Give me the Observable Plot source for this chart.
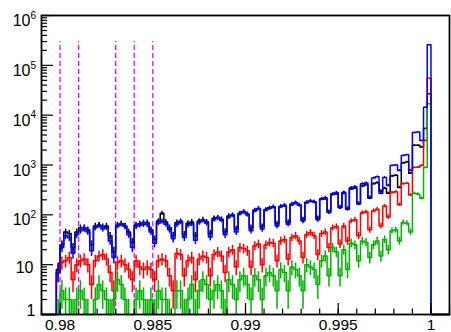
<!DOCTYPE html>
<html><head><meta charset="utf-8">
<script src="https://cdn.jsdelivr.net/npm/d3@7"></script>
<script src="https://cdn.jsdelivr.net/npm/@observablehq/plot@0.6"></script>
<style>body{margin:0;background:#fff}svg{display:block}</style>
</head><body><div id="chart"></div>
<script>
// histogram binning
const binStart = 0.9798;
const binWidth = 0.0002;

// bin contents (101 bins from 0.9798 to 1.0)
const blue = [7,22,38,35,17,40,48,56,45,19,55,62,52,56,30,14,60,66,58,40,22,58,62,70,64,45,27,68,74,65,50,33,64,72,35,62,66,31,70,78,68,36,80,88,78,40,90,99,45,105,116,100,48,120,134,52,125,135,146,60,145,156,65,160,176,155,75,175,190,180,80,210,220,112,265,280,140,285,134,350,368,170,420,436,224,550,578,270,560,390,980,995,780,1550,1600,780,4500,4600,3100,14500,260000];
const black = [8,25,45,42,22,45,55,52,50,25,60,62,58,60,38,18,62,66,60,45,28,62,66,64,70,50,32,75,107,72,55,38,70,74,40,68,72,38,75,80,72,42,85,88,82,46,95,98,52,108,115,104,55,125,132,58,128,138,142,66,148,152,70,165,172,158,80,178,188,182,85,205,210,115,255,262,140,270,130,330,340,165,380,400,215,420,440,300,340,270,600,620,355,1100,1150,680,2500,2500,2300,5400,27000];
const red = [7,11,12,14,5,10,12,13,10,4,12,15,16,13,7,3,11,12,10,8,5,12,9,8,9,8,5,12,13,12,6,3,17,16,6,12,14,5,13,15,14,6,16,18,15,7,18,20,9,22,21,19,9,24,26,10,25,28,27,12,30,32,13,35,38,30,14,40,44,38,16,42,45,22,55,58,26,60,30,75,80,38,110,115,50,120,130,60,150,90,280,290,160,420,430,250,890,900,980,3100,55000];
const green = [1,3,2,2,1,2,3,2,1,0,2,4,3,2,1,2,5,4,2,1,0,2,3,2,1,2,1,3,2,2,1,0,3,3,1,2,4,1,3,5,4,2,3,4,3,1,5,4,2,5,6,4,2,6,5,2,6,7,6,3,8,7,3,9,8,6,3,10,9,8,4,12,15,6,22,18,6,20,8,27,25,12,30,28,14,25,30,15,32,20,48,50,30,70,68,45,270,260,214,890,17000];

// axes
const xDomain = [0.979, 1.001];
const yDomain = [1, 1e6];
const xMajor = [0.98, 0.985, 0.99, 0.995, 1.0];
const xMajorLabels = ["0.98", "0.985", "0.99", "0.995", "1"];
const xMinor = d3.range(0, 23).map(i => +(0.979 + i * 0.001).toFixed(3));
const yMajor = [1, 10, 100, 1e3, 1e4, 1e5, 1e6];
const yBase = ["1", "10", "10", "10", "10", "10", "10"];
const yExp = ["", "", "2", "3", "4", "5", "6"];
const yMinor = d3.range(0, 6).flatMap(e => d3.range(2, 10).map(m => m * 10 ** e));

// cut lines
const cuts = [0.980, 0.981, 0.983, 0.984, 0.985];
const cutTop = 3e5;

const series = [
  {name: "black", color: "#000000", values: black},
  {name: "red", color: "#ff0000", values: red},
  {name: "green", color: "#00b400", values: green},
  {name: "blue", color: "#0000ff", values: blue}
];

function stepPoints(values) {
  const pts = [{x: xDomain[0], y: 1}];
  values.forEach((v, i) => pts.push({x: binStart + i * binWidth, y: Math.max(v, 1)}));
  pts.push({x: binStart + values.length * binWidth, y: 1});
  pts.push({x: xDomain[1], y: 1});
  return pts;
}
function errPoints(values) {
  return values.map((v, i) => ({x: binStart + (i + 0.5) * binWidth, v}))
    .filter(d => d.v > 0)
    .map(d => ({x: d.x, y1: Math.max(1, d.v - Math.sqrt(d.v)), y2: d.v + Math.sqrt(d.v)}));
}

const W = 451, H = 332, mL = 41, mR = 2, mT = 15, mB = 18;
const fw = W - mL - mR, fh = H - mT - mB;
const font = "Liberation Sans, Arial, Helvetica, sans-serif";

const marks = [];
marks.push(Plot.ruleX(cuts, {x: d => d, y1: 1, y2: cutTop, stroke: "#ff00ff", strokeWidth: 1.3, strokeDasharray: "5,3"}));
for (const s of series) {
  marks.push(Plot.ruleX(errPoints(s.values), {x: "x", y1: "y1", y2: "y2", stroke: s.color, strokeWidth: 1.5}));
  marks.push(Plot.line(stepPoints(s.values), {x: "x", y: "y", curve: "step-after", stroke: s.color, strokeWidth: 1.5}));
}
marks.push(Plot.tickY(yMajor, {y: d => d, stroke: "#000", strokeWidth: 1.2, insetRight: fw - 12}));
marks.push(Plot.tickY(yMinor, {y: d => d, stroke: "#000", strokeWidth: 1.2, insetRight: fw - 6}));
marks.push(Plot.tickX(xMajor, {x: d => d, stroke: "#000", strokeWidth: 1.2, insetTop: fh - 11}));
marks.push(Plot.tickX(xMinor, {x: d => d, stroke: "#000", strokeWidth: 1.2, insetTop: fh - 5.5}));
marks.push(Plot.frame({stroke: "#000", strokeWidth: 1.8}));
marks.push(Plot.text(xMajor, {x: d => d, text: (d, i) => xMajorLabels[i], frameAnchor: "bottom", lineAnchor: "bottom", dy: 15.5, fontSize: 15.5, fill: "#000"}));
const yl = yMajor.map((v, i) => ({v, base: yBase[i], exp: yExp[i]}));
marks.push(Plot.text(yl.filter(d => d.exp), {y: "v", text: "base", frameAnchor: "left", textAnchor: "end", dx: -11, dy: 5.5, fontSize: 16, fill: "#000"}));
marks.push(Plot.text(yl.filter(d => d.exp), {y: "v", text: "exp", frameAnchor: "left", textAnchor: "start", dx: -11, dy: 0, fontSize: 10, fill: "#000"}));
marks.push(Plot.text(yl.filter(d => d.v === 10), {y: "v", text: "base", frameAnchor: "left", textAnchor: "end", dx: -8, dy: 3, fontSize: 16, fill: "#000"}));
marks.push(Plot.text(yl.filter(d => d.v === 1), {y: "v", text: "base", frameAnchor: "left", textAnchor: "end", dx: -6, dy: -4, fontSize: 16, fill: "#000"}));

const chart = Plot.plot({
  width: W, height: H,
  marginLeft: mL, marginRight: mR, marginTop: mT, marginBottom: mB,
  style: {fontFamily: font, background: "#fff", overflow: "visible"},
  x: {domain: xDomain, axis: null},
  y: {type: "log", domain: yDomain, axis: null},
  marks
});
document.getElementById("chart").append(chart);
</script>
</body></html>
